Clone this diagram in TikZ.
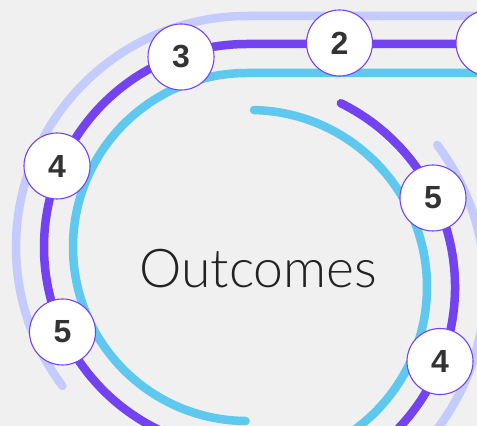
\documentclass[tikz,border=0pt]{standalone}
\usepackage{fontspec}
\setmainfont{Liberation Sans}
\IfFontExistsTF{Lato Light}{\newfontfamily\lightfont{Lato Light}}{%
  \IfFontExistsTF{Open Sans Light}{\newfontfamily\lightfont{Open Sans Light}}{%
    \newfontfamily\lightfont{DejaVu Sans ExtraLight}}}
\definecolor{bg}{HTML}{F0F0F0}
\definecolor{lav}{HTML}{C4CBFE}
\definecolor{pur}{HTML}{7443F1}
\definecolor{cya}{HTML}{5EC8EE}
\definecolor{txt}{HTML}{333333}
\definecolor{ink}{HTML}{222222}
\begin{document}
\begin{tikzpicture}[x=1pt,y=1pt,
  track/.style={line width=8.5pt},
  stepnode/.style={circle, draw=pur, line width=1.1pt, fill=white, minimum size=66pt,
    inner sep=0pt, font=\fontsize{32}{32}\selectfont\bfseries, text=txt}]
\useasboundingbox (0,0) rectangle (477,426);
\clip (0,0) rectangle (477,426);
\fill[bg] (0,0) rectangle (477,426);
\coordinate (cL) at (247,179);
\coordinate (cR) at (250,139);
% left corner tracks joining the top lines
\draw[track, lav, line cap=round] (520,410) -- (247,410) arc[start angle=90, end angle=217, radius=231];
\draw[track, pur] (520,382) -- (247,382) arc[start angle=90, end angle=280, radius=203];
\draw[track, cya, line cap=round] (520,353) -- (247,353) arc[start angle=90, end angle=269.5, radius=174];
% right arcs
\draw[track, cya, line cap=round] (cR) ++(88.7:177) arc[start angle=88.7, end angle=-80, radius=177];
\draw[track, pur, line cap=round] (cR) ++(63.7:205) arc[start angle=63.7, end angle=-80, radius=205];
\draw[track, lav, line cap=round] (cR) ++(37.2:235) arc[start angle=37.2, end angle=-60, radius=235];
% step nodes
\node[stepnode] (n1) at (489,383) {};
\node[stepnode] (n2) at (339.5,383) {2};
\node[stepnode] (n3) at (181,369) {3};
\node[stepnode] (n4a) at (57,260) {4};
\node[stepnode] (n5a) at (62.5,94) {5};
\node[stepnode] (n5b) at (433,228) {5};
\node[stepnode] (n4b) at (440,64.5) {4};
\node[anchor=base, inner sep=0pt, font=\lightfont\fontsize{53.5}{53.5}\selectfont, text=ink] (out) at (258.5,138) {Outcomes};
\end{tikzpicture}
\end{document}
